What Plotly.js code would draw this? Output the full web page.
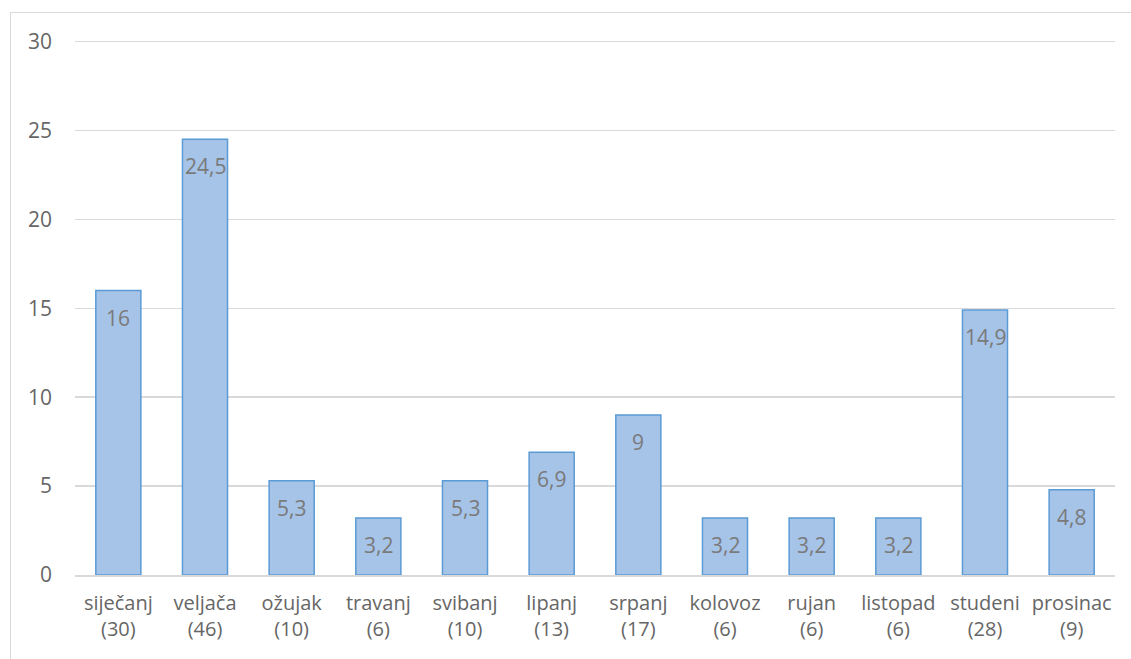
<!DOCTYPE html>
<html>
<head>
<meta charset="utf-8">
<script src="https://cdn.plot.ly/plotly-3.0.1.min.js"></script>
<style>
body{margin:0;background:#fff;}
#chart{width:1131px;height:659px;}
#frame{position:absolute;left:10px;top:12px;width:1200px;height:720px;border:1.5px solid #d9d9d9;pointer-events:none;}
</style>
</head>
<body>
<div id="chart"></div>
<div id="frame"></div>
<script>
const months = ["siječanj","veljača","ožujak","travanj","svibanj","lipanj","srpanj","kolovoz","rujan","listopad","studeni","prosinac"];
const counts = [30,46,10,6,10,13,17,6,6,6,28,9];
const values = [16,24.5,5.3,3.2,5.3,6.9,9,3.2,3.2,3.2,14.9,4.8];
const yTicks = [0,5,10,15,20,25,30];

const cats = months.map((m,i)=>m+"<br>("+counts[i]+")");
const fmt = v => String(v).replace('.', ',');

const trace = {
  type:'bar', x:cats, y:values,
  marker:{color:'#a6c3e8', line:{color:'#5b9bd5', width:1.5}},
  hoverinfo:'skip'
};

const annotations = values.map((v,i)=>({
  x:cats[i], y:v, xref:'x', yref:'y', text:fmt(v), showarrow:false,
  yshift:-27, yanchor:'middle',
  font:{family:'"Open Sans", sans-serif', size:21, color:'#7a7a7a'}
}));

const layout = {
  width:1131, height:659,
  margin:{l:75, r:16, t:38, b:84},
  paper_bgcolor:'#fff', plot_bgcolor:'#fff',
  bargap:0.48,
  showlegend:false,
  separators:',.',
  font:{family:'"Open Sans", sans-serif', size:20, color:'#666'},
  xaxis:{tickfont:{size:20, color:'#666'}, showgrid:false, showline:true, linecolor:'#d9d9d9', linewidth:1.5, ticks:'', ticklabelstandoff:9},
  yaxis:{range:[0,30.2], tickvals:yTicks, ticktext:yTicks.map(String), showgrid:true, gridcolor:'#d9d9d9', gridwidth:1.5, zeroline:false, showline:false, ticklabelstandoff:22, tickfont:{size:21,color:'#666'}},
  annotations
};

Plotly.newPlot('chart',[trace],layout,{displayModeBar:false, staticPlot:true});
</script>
</body>
</html>
